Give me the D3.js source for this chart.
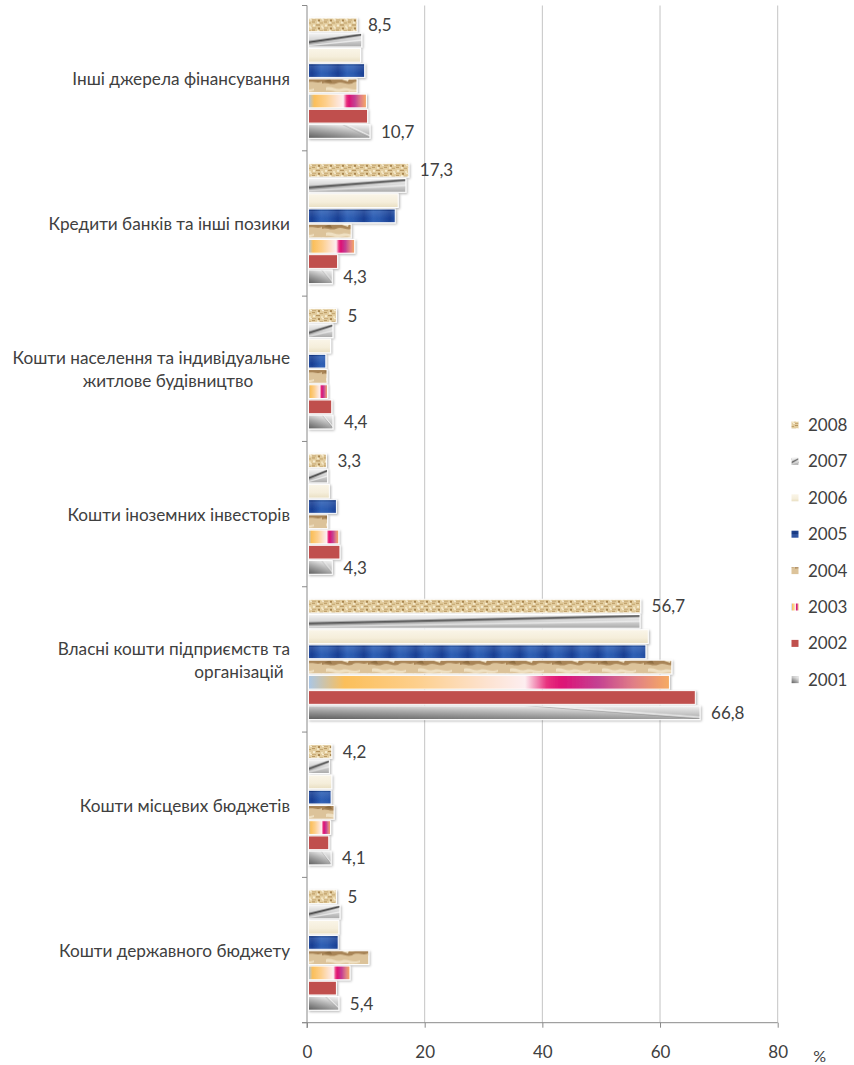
<!DOCTYPE html>
<html>
<head>
<meta charset="utf-8">
<script src="https://cdn.jsdelivr.net/npm/d3@7"></script>
<style>
  html, body { margin: 0; padding: 0; background: #ffffff; }
  svg { display: block; font-family: Lato, "Open Sans", sans-serif; }
</style>
</head>
<body>
<svg id="chart" width="854" height="1065"></svg>
<script>
// ---------- data ----------
const categories = [
  "Інші джерела фінансування",
  "Кредити банків та інші позики",
  "Кошти населення та індивідуальне житлове будівництво",
  "Кошти іноземних інвесторів",
  "Власні кошти підприємств та організацій",
  "Кошти місцевих бюджетів",
  "Кошти державного бюджету"
];
const categoryLines = [
  ["Інші джерела фінансування"],
  ["Кредити банків та інші позики"],
  ["Кошти населення та індивідуальне", "житлове будівництво"],
  ["Кошти іноземних інвесторів"],
  ["Власні кошти підприємств та", "організацій"],
  ["Кошти місцевих бюджетів"],
  ["Кошти державного бюджету"]
];
const years = ["2008", "2007", "2006", "2005", "2004", "2003", "2002", "2001"];
const v2008 = [8.5, 17.3, 5.0, 3.3, 56.7, 4.2, 5.0];
const v2007 = [9.3, 16.8, 4.4, 3.5, 56.6, 3.8, 5.6];
const v2006 = [9.1, 15.5, 4.0, 3.8, 58.0, 4.2, 5.4];
const v2005 = [9.8, 15.0, 3.2, 5.0, 57.6, 4.1, 5.3];
const v2004 = [8.5, 7.5, 3.4, 3.5, 62.0, 4.6, 10.5];
const v2003 = [10.1, 8.1, 3.5, 5.4, 61.6, 4.0, 7.3];
const v2002 = [10.3, 5.2, 4.2, 5.6, 66.0, 3.7, 5.0];
const v2001 = [10.7, 4.3, 4.4, 4.3, 66.8, 4.1, 5.4];
const labelled = ["2008", "2001"];
const xTicks = [0, 20, 40, 60, 80];
const axisUnit = "%";

const seriesValues = {
  "2008": v2008, "2007": v2007, "2006": v2006, "2005": v2005,
  "2004": v2004, "2003": v2003, "2002": v2002, "2001": v2001
};

// ---------- setup ----------
const svg = d3.select("#chart");
const defs = svg.append("defs");

const x = d3.scaleLinear().domain([0, 80]).range([307, 777.7]);
const y0 = d3.scaleBand().domain(categories).range([5.5, 1022.7]).padding(0);
const y1 = d3.scaleBand().domain(years).range([12, y0.bandwidth() - 11.5]).padding(0);

// ---------- fills ----------
function grad(id, stops, x1, y1_, x2, y2) {
  const g = defs.append("linearGradient").attr("id", id)
    .attr("x1", x1).attr("y1", y1_).attr("x2", x2).attr("y2", y2);
  stops.forEach(s => g.append("stop").attr("offset", s[0]).attr("stop-color", s[1]));
  return g;
}

// 2008 burlap
(function () {
  const p = defs.append("pattern").attr("id", "p2008").attr("patternUnits", "userSpaceOnUse")
    .attr("width", 12).attr("height", 8);
  p.append("rect").attr("width", 12).attr("height", 8).attr("fill", "#e2cc9e");
  const dots = [[0,0,3,1,"#b8965e"],[5,0,2,2,"#f4e8c8"],[8,1,3,1,"#c2a46e"],[1,3,2,2,"#f6ecd0"],
    [4,3,4,1,"#b08c54"],[9,4,2,2,"#f2e4c0"],[0,6,4,1,"#c8aa76"],[6,6,2,2,"#a98650"],[10,6,2,1,"#f6ecd4"]];
  dots.forEach(d => p.append("rect").attr("x", d[0]).attr("y", d[1]).attr("width", d[2]).attr("height", d[3]).attr("fill", d[4]));
})();

// 2007 metallic with diagonal streak
(function () {
  grad("g2007", [[0, "#f4f4f4"], [0.5, "#d4d4d4"], [1, "#a8a8a8"]], 0, 0, 0, 1);
  const p = defs.append("pattern").attr("id", "p2007").attr("patternUnits", "objectBoundingBox")
    .attr("patternContentUnits", "objectBoundingBox").attr("width", 1).attr("height", 1);
  p.append("rect").attr("width", 1).attr("height", 1).attr("fill", "url(#g2007)");
  p.append("polygon").attr("points", "0,0.55 1,0.02 1,0.2 0,0.78").attr("fill", "#8c8c8c");
  p.append("polygon").attr("points", "0,0.62 1,0.08 1,0.14 0,0.7").attr("fill", "#3e3e3e");
  p.append("polygon").attr("points", "0,0.85 1,0.45 1,0.55 0,0.95").attr("fill", "#ffffff").attr("opacity", 0.6);
})();

// 2006 cream
grad("p2006", [[0, "#faf5e8"], [0.6, "#f5eedb"], [1, "#e9dfc2"]], 0, 0, 0, 1);

// 2005 blue stripes
(function () {
  const g = grad("g2005", [[0, "#173d92"], [0.35, "#2d5fb5"], [0.6, "#2a59ae"], [1, "#173d92"]], 0, 0, 1, 0);
  g.attr("gradientUnits", "objectBoundingBox");
  grad("g2005v", [[0, "#ffffff"], [0.4, "#ffffff"], [1, "#000000"]], 0, 0, 0, 1)
    .selectAll("stop").attr("stop-opacity", (d, i) => [0.12, 0, 0.15][i]);
  const p = defs.append("pattern").attr("id", "p2005").attr("patternUnits", "userSpaceOnUse")
    .attr("width", 26).attr("height", 20);
  p.append("rect").attr("width", 26).attr("height", 20).attr("fill", "url(#g2005)");
  p.append("rect").attr("x", 0).attr("width", 26).attr("height", 20).attr("fill", "url(#g2005v)");
})();

// 2004 crumpled paper
(function () {
  const p = defs.append("pattern").attr("id", "p2004").attr("patternUnits", "userSpaceOnUse")
    .attr("width", 46).attr("height", 16);
  p.append("rect").attr("width", 46).attr("height", 16).attr("fill", "#dcc39a");
  p.append("path").attr("d", "M0,9 C6,4 10,12 16,8 C22,4 26,13 33,9 C38,6 42,10 46,7 L46,12 C40,15 36,10 30,14 C24,16 20,11 14,14 C8,16 4,12 0,14 Z").attr("fill", "#a88456");
  p.append("path").attr("d", "M4,2 C10,0 14,5 20,3 C26,1 30,6 38,3 L38,5 C30,8 26,4 20,6 C14,8 10,4 4,5 Z").attr("fill", "#efe0c2");
  p.append("path").attr("d", "M20,10 L28,6 L26,12 Z").attr("fill", "#f1e4c8");
  p.append("path").attr("d", "M2,12 L8,9 L10,13 Z").attr("fill", "#8e6c40");
})();

// 2003 multicolour gradient
grad("p2003", [[0, "#a9c6e6"], [0.1, "#fbbf5a"], [0.3, "#fdcf8c"], [0.5, "#fde3d2"], [0.6, "#fdeef0"],
  [0.66, "#e8327e"], [0.7, "#de1275"], [0.8, "#c43f92"], [0.9, "#e07e86"], [1, "#f6ab62"]], 0, 0, 1, 0);

// 2002 solid red
const fill2002 = "#c0504d";

// 2001 gray metallic
(function () {
  grad("g2001", [[0, "#6e6e6e"], [0.35, "#a4a4a4"], [0.7, "#dcdcdc"], [1, "#f2f2f2"]], 0, 1, 1, 0);
  grad("g2001b", [[0, "#ffffff"], [1, "#000000"]], 0, 0, 0, 1).selectAll("stop").attr("stop-opacity", (d, i) => [0.25, 0.15][i]);
  const p = defs.append("pattern").attr("id", "p2001").attr("patternUnits", "objectBoundingBox")
    .attr("patternContentUnits", "objectBoundingBox").attr("width", 1).attr("height", 1);
  p.append("rect").attr("width", 1).attr("height", 1).attr("fill", "url(#g2001)");
  p.append("rect").attr("width", 1).attr("height", 1).attr("fill", "url(#g2001b)");
  p.append("polygon").attr("points", "0.55,0 0.62,0 1,0.78 1,0.9").attr("fill", "#ffffff").attr("opacity", 0.85);
  p.append("polygon").attr("points", "0.55,0 0.58,0 1,0.9 1,0.95").attr("fill", "#555555").attr("opacity", 0.5);
})();

const fills = {
  "2008": "url(#p2008)", "2007": "url(#p2007)", "2006": "url(#p2006)", "2005": "url(#p2005)",
  "2004": "url(#p2004)", "2003": "url(#p2003)", "2002": fill2002, "2001": "url(#p2001)"
};

// shadow
const f = defs.append("filter").attr("id", "shadow").attr("x", "-5%").attr("y", "-30%").attr("width", "120%").attr("height", "180%");
f.append("feDropShadow").attr("dx", 1.2).attr("dy", 1.2).attr("stdDeviation", 0.9)
  .attr("flood-color", "#000").attr("flood-opacity", 0.28);

// ---------- grid ----------
svg.append("g").selectAll("line").data(xTicks.filter(t => t > 0)).join("line")
  .attr("x1", d => x(d)).attr("x2", d => x(d))
  .attr("y1", 5.5).attr("y2", 1022.7)
  .attr("stroke", "#c4c4c4").attr("stroke-width", 1);

// ---------- bars ----------
const groups = svg.append("g").selectAll("g").data(categories).join("g")
  .attr("transform", d => `translate(0,${y0(d)})`);

groups.each(function (cat, ci) {
  const g = d3.select(this);
  years.forEach(yr => {
    const v = seriesValues[yr][ci];
    g.append("rect")
      .attr("x", x(0) + 1.5)
      .attr("y", y1(yr) + 0.5)
      .attr("width", x(v) - x(0) - 1.5)
      .attr("height", y1.bandwidth() - 1.5)
      .attr("fill", fills[yr])
      .attr("stroke", "#ffffff").attr("stroke-width", 1)
      .attr("filter", "url(#shadow)");
    if (labelled.includes(yr)) {
      g.append("text")
        .attr("x", x(v) + 11)
        .attr("y", y1(yr) + y1.bandwidth() / 2)
        .attr("dy", "0.35em")
        .attr("font-size", 17)
        .attr("fill", "#404040")
        .text(String(v).replace(".", ","));
    }
  });
});

// ---------- axes ----------
const axisColor = "#8a8a8a";
svg.append("line").attr("x1", x(0)).attr("x2", x(0)).attr("y1", 5.5).attr("y2", 1028)
  .attr("stroke", axisColor).attr("stroke-width", 1);
svg.append("g").selectAll("line").data(d3.range(categories.length + 1)).join("line")
  .attr("x1", x(0) - 5).attr("x2", x(0))
  .attr("y1", i => 5.5 + i * y0.bandwidth()).attr("y2", i => 5.5 + i * y0.bandwidth())
  .attr("stroke", axisColor);
const xAxis = d3.axisBottom(x).tickValues(xTicks).tickSize(5).tickPadding(18).tickFormat(d3.format("d"));
const ax = svg.append("g").attr("transform", "translate(0,1022.7)").call(xAxis);
ax.select(".domain").attr("stroke", axisColor).attr("d", `M${x(0) - 5},0H${x(80)}`);
ax.selectAll(".tick line").attr("stroke", axisColor);
ax.selectAll(".tick text").attr("font-size", 17).attr("fill", "#404040").attr("font-family", "Lato, sans-serif");
svg.append("text").attr("x", x(80) + 42).attr("y", 1062).attr("font-size", 16).attr("fill", "#404040")
  .attr("text-anchor", "middle").text(axisUnit);

// ---------- category labels ----------
const lineCenters = [[null], [null], [null, 168], [null], [null, 239], [null], [null]];
categoryLines.forEach((lines, ci) => {
  const cy = y0(categories[ci]) + y0.bandwidth() / 2 + 1;
  const lh = 23;
  lines.forEach((ln, li) => {
    const yy = cy + (li - (lines.length - 1) / 2) * lh;
    const c = lineCenters[ci][li];
    svg.append("text")
      .attr("x", c == null ? 290 : c)
      .attr("y", yy).attr("dy", "0.35em")
      .attr("text-anchor", c == null ? "end" : "middle")
      .attr("font-size", 17.2).attr("fill", "#404040")
      .text(ln);
  });
});

// ---------- legend ----------
const legend = svg.append("g").selectAll("g").data(years).join("g")
  .attr("transform", (d, i) => `translate(795,${425 + i * 36.4})`);
legend.append("rect").attr("x", -3.5).attr("y", -3.5).attr("width", 7).attr("height", 7)
  .attr("fill", d => fills[d]);
legend.append("text").attr("x", 13).attr("dy", "0.35em").attr("font-size", 17).attr("fill", "#404040")
  .text(d => d);
</script>
</body>
</html>
